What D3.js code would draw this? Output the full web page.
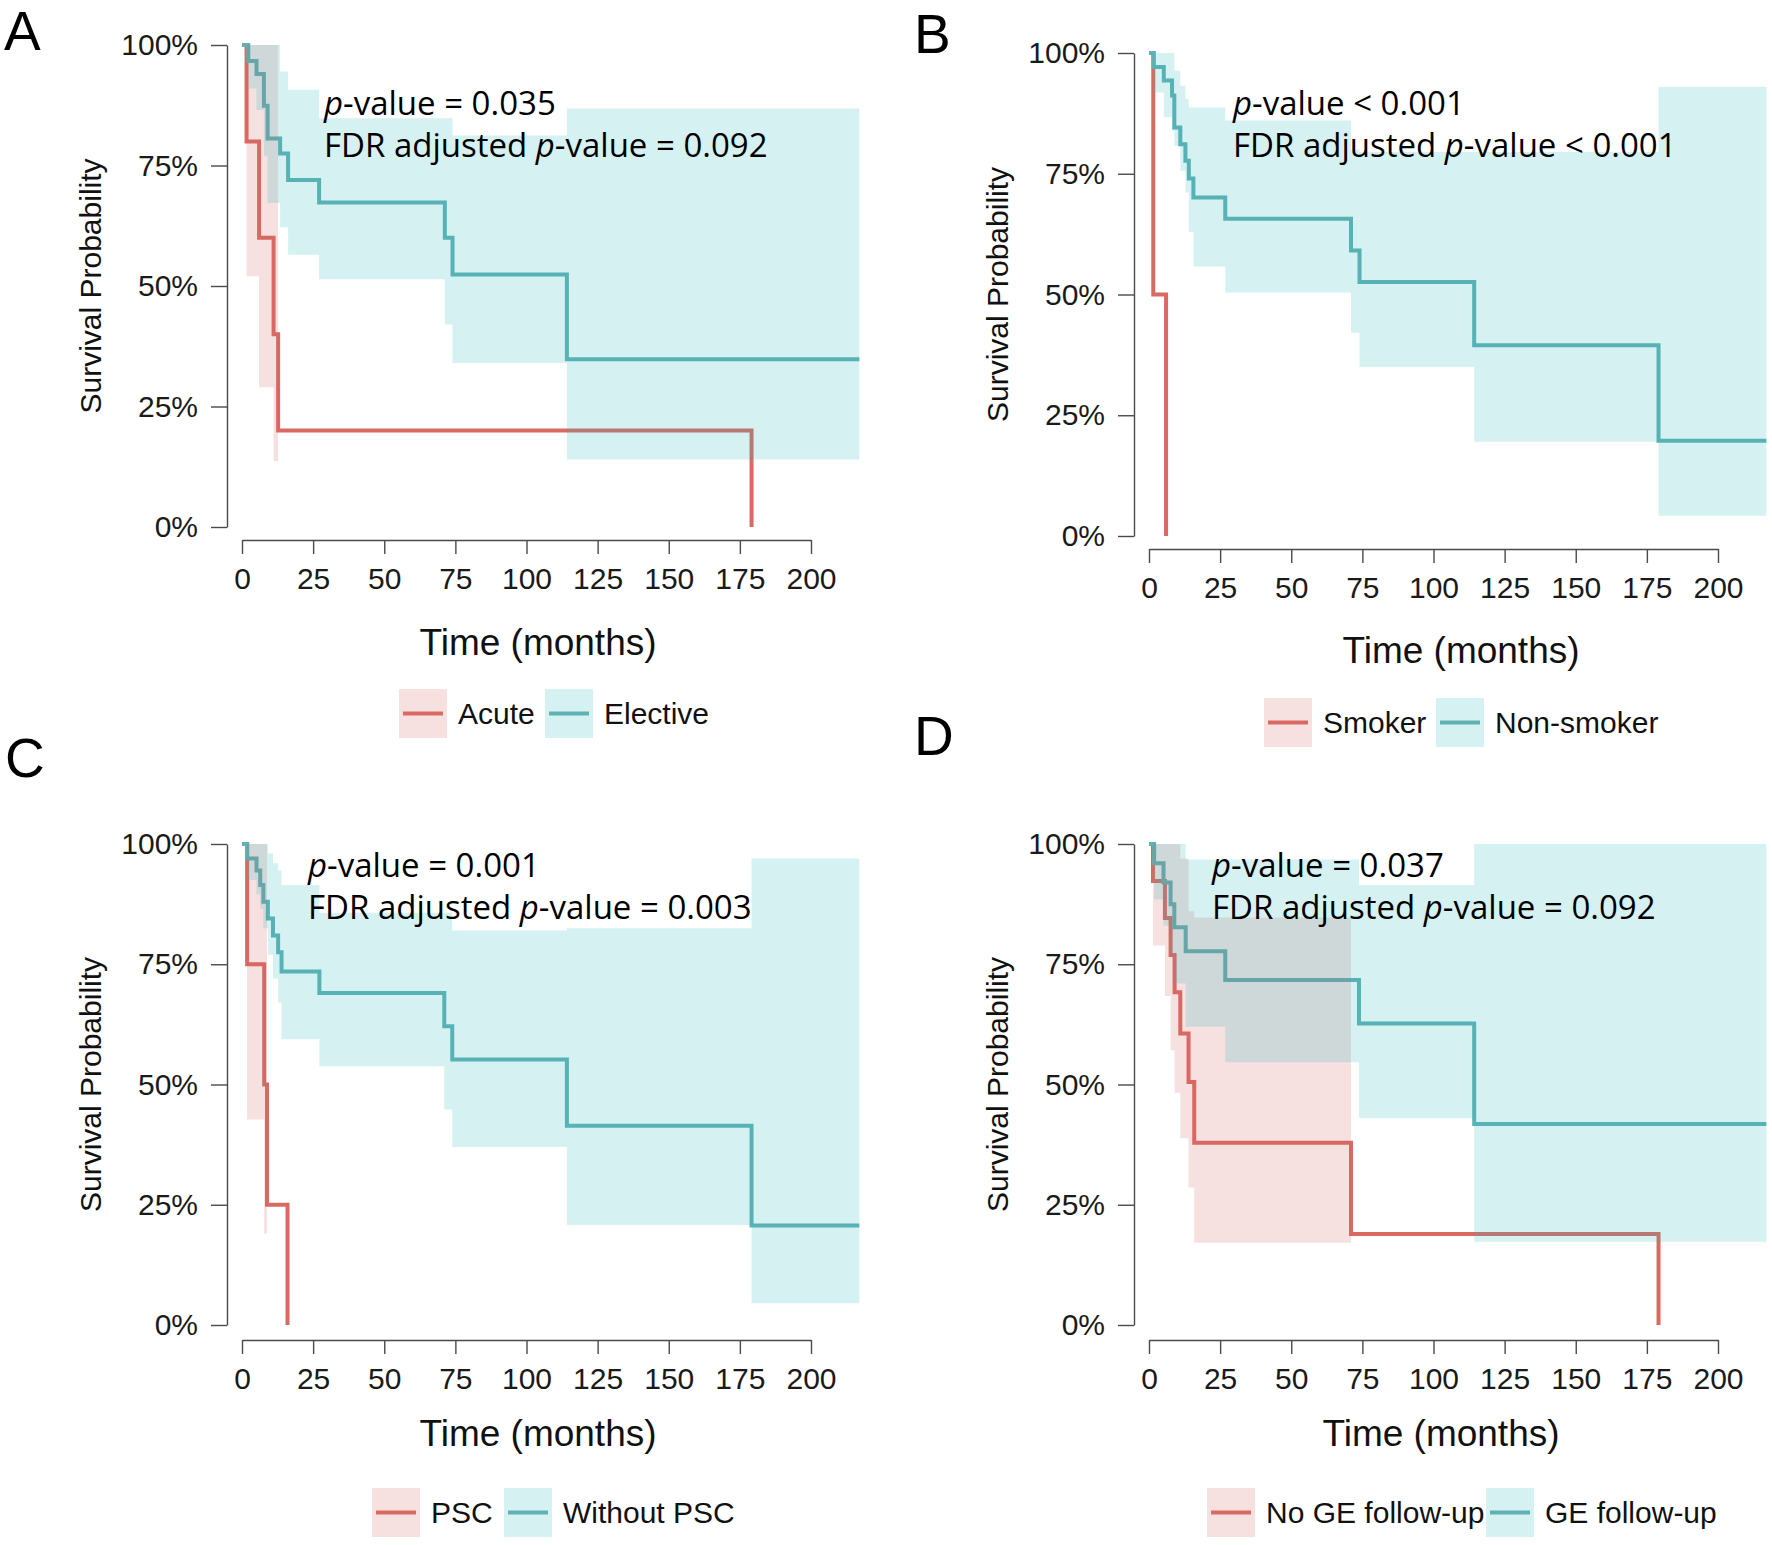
<!DOCTYPE html>
<html>
<head>
<meta charset="utf-8">
<script src="https://cdn.jsdelivr.net/npm/d3@7"></script>
<style>
  body { margin: 0; background: #fff; }
  text { font-family: "Liberation Sans", Arial, sans-serif; }
  .ptext { font-family: "Open Sans", sans-serif; }
</style>
</head>
<body>
<svg id="chart" width="1772" height="1545"></svg>
<script>
// axis ticks
const xTicks = [0, 25, 50, 75, 100, 125, 150, 175, 200]
const yTicks = [0, 0.25, 0.5, 0.75, 1]
const yTickLabels = ["0%", "25%", "50%", "75%", "100%"]
const timeMax = 217

// panel texts
const panelLetters = ["A", "B", "C", "D"]
const groupNames = [["Acute", "Elective"], ["Smoker", "Non-smoker"], ["PSC", "Without PSC"], ["No GE follow-up", "GE follow-up"]]
const pValues = ["= 0.035", "< 0.001", "= 0.001", "= 0.037"]
const fdrValues = ["= 0.092", "< 0.001", "= 0.003", "= 0.092"]

// A: acute vs elective
const acuteTime  = [0, 1.6, 6, 11.1, 12.7, 179.1]
const acuteSurv  = [1, 0.8, 0.6, 0.4, 0.2, 0]
const acuteUpper = [1, 1, 1, 1]
const acuteLower = [1, 0.52, 0.29, 0.137]
const electiveTime  = [0, 2.2, 5.1, 7.7, 9, 13.4, 16.2, 27.1, 71.3, 74, 114.2]
const electiveSurv  = [1, 0.967, 0.94, 0.874, 0.806, 0.775, 0.72, 0.673, 0.6, 0.524, 0.348]
const electiveUpper = [1, 1, 1, 1, 1, 0.945, 0.907, 0.848, 0.848, 0.812, 0.868]
const electiveLower = [1, 0.91, 0.865, 0.77, 0.672, 0.622, 0.565, 0.514, 0.42, 0.34, 0.14]

// B: smoker vs non-smoker
const smokerTime  = [0, 1.5, 6]
const smokerSurv  = [1, 0.5, 0]
const smokerUpper = [1]
const smokerLower = [1]
const nonSmokerTime  = [0, 1.7, 5.2, 8.1, 8.9, 11, 12.8, 14, 15.6, 26.8, 71, 74, 114.3, 179.1]
const nonSmokerSurv  = [1, 0.971, 0.943, 0.912, 0.846, 0.811, 0.777, 0.74, 0.701, 0.657, 0.591, 0.526, 0.395, 0.197]
const nonSmokerUpper = [1, 1, 1, 1, 0.963, 0.932, 0.905, 0.887, 0.887, 0.86, 0.8, 0.795, 0.795, 0.93]
const nonSmokerLower = [1, 0.918, 0.867, 0.839, 0.808, 0.756, 0.711, 0.63, 0.558, 0.504, 0.421, 0.35, 0.195, 0.042]

// C: PSC vs without PSC
const pscTime  = [0, 1.8, 7.8, 8.8, 16]
const pscSurv  = [1, 0.75, 0.5, 0.25, 0]
const pscUpper = [1, 1, 1]
const pscLower = [1, 0.427, 0.19]
const woPscTime  = [0, 1.8, 5.1, 6.4, 7.5, 9.1, 10.9, 12.7, 13.9, 27.2, 71.1, 73.9, 114.2, 179.1]
const woPscSurv  = [1, 0.97, 0.945, 0.915, 0.88, 0.845, 0.81, 0.775, 0.735, 0.69, 0.621, 0.552, 0.414, 0.207]
const woPscUpper = [1, 1, 1, 1, 1, 0.98, 0.96, 0.945, 0.915, 0.857, 0.857, 0.82, 0.825, 0.97]
const woPscLower = [1, 0.925, 0.895, 0.865, 0.825, 0.77, 0.72, 0.67, 0.594, 0.538, 0.448, 0.37, 0.208, 0.045]

// D: no GE follow-up vs GE follow-up
const noGeTime  = [0, 1.4, 5.6, 7.6, 9, 11, 13.9, 15.9, 71, 179.1]
const noGeSurv  = [1, 0.923, 0.846, 0.769, 0.692, 0.606, 0.505, 0.379, 0.189, 0]
const noGeUpper = [1, 1, 1, 1, 1, 0.97, 0.86, 0.847]
const noGeLower = [1, 0.789, 0.684, 0.571, 0.483, 0.388, 0.286, 0.171]
const geTime  = [0, 1.8, 5.1, 7.6, 8.9, 12.9, 26.8, 73.8, 114.3]
const geSurv  = [1, 0.96, 0.92, 0.875, 0.827, 0.777, 0.717, 0.627, 0.418]
const geUpper = [1, 1, 1, 1, 1, 0.968, 0.968, 0.915, 1]
const geLower = [1, 0.885, 0.83, 0.77, 0.71, 0.62, 0.546, 0.43, 0.173]

const groups = [
  [[acuteTime, acuteSurv, acuteUpper, acuteLower], [electiveTime, electiveSurv, electiveUpper, electiveLower]],
  [[smokerTime, smokerSurv, smokerUpper, smokerLower], [nonSmokerTime, nonSmokerSurv, nonSmokerUpper, nonSmokerLower]],
  [[pscTime, pscSurv, pscUpper, pscLower], [woPscTime, woPscSurv, woPscUpper, woPscLower]],
  [[noGeTime, noGeSurv, noGeUpper, noGeLower], [geTime, geSurv, geUpper, geLower]]
]

const lineColors = ["#D96A62", "#5FB1B3"]
const bandColors = ["rgba(210,100,100,0.2)", "rgba(50,185,190,0.2)"]

// where each panel sits on the page
const layout = [
  {lx: 4, ly: 50, ax: 227, yTop: 45, yBot: 527, axY: 540, x0: 242, x200: 811, xlabX: 538, xlabY: 655, ylabX: 90, pX: 324, pY: 115, keyX: [399, 545], keyY: 689},
  {lx: 914, ly: 53, ax: 1134, yTop: 53, yBot: 536, axY: 549, x0: 1149, x200: 1718, xlabX: 1461, xlabY: 663, ylabX: 997, pX: 1233, pY: 115, keyX: [1264, 1436], keyY: 698},
  {lx: 5, ly: 777, ax: 227, yTop: 844, yBot: 1325, axY: 1340, x0: 242, x200: 811, xlabX: 538, xlabY: 1446, ylabX: 90, pX: 308, pY: 877, keyX: [372, 504], keyY: 1488},
  {lx: 914, ly: 755, ax: 1134, yTop: 844, yBot: 1325, axY: 1340, x0: 1149, x200: 1718, xlabX: 1441, xlabY: 1446, ylabX: 997, pX: 1212, pY: 877, keyX: [1207, 1486], keyY: 1488}
]

const svg = d3.select("#chart")
svg.append("rect").attr("width", 1772).attr("height", 1545).attr("fill", "#fff")

function curvePoints(time, surv){
  const pts = time.map((t, i) => ({t: t, s: surv[i]}))
  if (surv[surv.length - 1] > 0) pts.push({t: timeMax, s: surv[surv.length - 1]})
  return pts
}

function bandPoints(time, upper, lower){
  const n = upper.length
  const pts = upper.map((u, i) => ({t: time[i], hi: u, lo: lower[i]}))
  const end = n < time.length ? time[n] : timeMax
  pts.push({t: end, hi: upper[n - 1], lo: lower[n - 1]})
  return pts
}

layout.forEach((L, p) => {
  const g = svg.append("g")

  const x = d3.scaleLinear().domain([0, 200]).range([L.x0, L.x200])
  const y = d3.scaleLinear().domain([0, 1]).range([L.yBot, L.yTop])

  // panel letter
  g.append("text")
    .attr("x", L.lx).attr("y", L.ly)
    .attr("font-size", 55)
    .attr("fill", "#000")
    .text(panelLetters[p])

  // axes
  const xAxis = g.append("g")
    .attr("transform", `translate(0,${L.axY})`)
    .call(d3.axisBottom(x).tickValues(xTicks).tickSize(14).tickPadding(14).tickSizeOuter(0))
  const yAxis = g.append("g")
    .attr("transform", `translate(${L.ax},0)`)
    .call(d3.axisLeft(y).tickValues(yTicks).tickFormat((d, i) => yTickLabels[i]).tickSize(16).tickPadding(13).tickSizeOuter(0))

  ;[xAxis, yAxis].forEach(a => {
    a.attr("font-family", null).attr("font-size", null)
    a.selectAll(".domain, .tick line").attr("stroke", "#4a4a4a").attr("stroke-width", 1.4)
    a.selectAll("text").attr("font-size", 30).attr("fill", "#1a1a1a")
  })

  // axis titles
  g.append("text")
    .attr("x", L.xlabX).attr("y", L.xlabY)
    .attr("text-anchor", "middle")
    .attr("font-size", 37)
    .attr("fill", "#111")
    .text("Time (months)")

  g.append("text")
    .attr("transform", `translate(${L.ylabX},${(L.yTop + L.yBot) / 2}) rotate(-90)`)
    .attr("dy", "0.35em")
    .attr("text-anchor", "middle")
    .attr("font-size", 30)
    .attr("fill", "#111")
    .text("Survival Probability")

  const line = d3.line()
    .curve(d3.curveStepAfter)
    .x(d => x(d.t))
    .y(d => y(d.s))

  const area = d3.area()
    .curve(d3.curveStepAfter)
    .x(d => x(d.t))
    .y0(d => y(d.lo))
    .y1(d => y(d.hi))

  // survival steps first, confidence bands over them
  groups[p].forEach((grp, j) => {
    g.append("path")
      .datum(curvePoints(grp[0], grp[1]))
      .attr("d", line)
      .attr("fill", "none")
      .attr("stroke", lineColors[j])
      .attr("stroke-width", 4)
  })
  groups[p].forEach((grp, j) => {
    g.append("path")
      .datum(bandPoints(grp[0], grp[2], grp[3]))
      .attr("d", area)
      .attr("fill", bandColors[j])
      .attr("stroke", "none")
  })

  // p-values
  const t1 = g.append("text").attr("class", "ptext")
    .attr("x", L.pX).attr("y", L.pY).attr("font-size", 33).attr("fill", "#000")
  t1.append("tspan").attr("font-style", "italic").text("p")
  t1.append("tspan").text("-value " + pValues[p])

  const t2 = g.append("text").attr("class", "ptext")
    .attr("x", L.pX).attr("y", L.pY + 42).attr("font-size", 33).attr("fill", "#000")
  t2.append("tspan").text("FDR adjusted ")
  t2.append("tspan").attr("font-style", "italic").text("p")
  t2.append("tspan").text("-value " + fdrValues[p])

  // legend
  groupNames[p].forEach((name, j) => {
    const kx = L.keyX[j]
    g.append("rect")
      .attr("x", kx).attr("y", L.keyY)
      .attr("width", 48).attr("height", 49)
      .attr("fill", bandColors[j])
    g.append("line")
      .attr("x1", kx + 4).attr("x2", kx + 44)
      .attr("y1", L.keyY + 24.5).attr("y2", L.keyY + 24.5)
      .attr("stroke", lineColors[j])
      .attr("stroke-width", 4)
    g.append("text")
      .attr("x", kx + 59).attr("y", L.keyY + 35)
      .attr("font-size", 30)
      .attr("fill", "#111")
      .text(name)
  })
})
</script>
</body>
</html>
